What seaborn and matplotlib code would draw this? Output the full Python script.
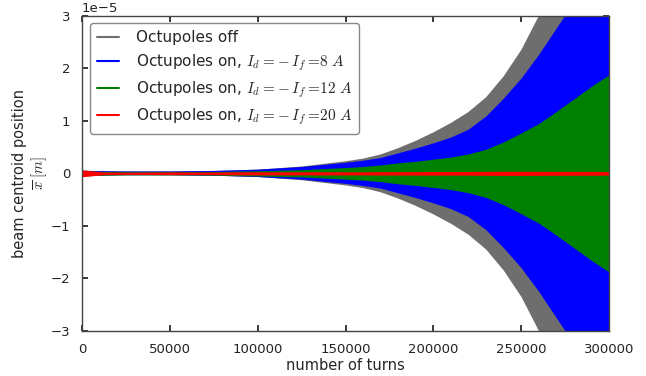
import numpy as np
import matplotlib
matplotlib.use("Agg")
import matplotlib.pyplot as plt
import seaborn as sns
from matplotlib.lines import Line2D

# envelope of the (dense) centroid oscillation, in units of 1e-5 m
turns = [0, 12500, 25000, 50000, 75000, 100000, 125000, 150000, 160000, 170000,
         180000, 190000, 200000, 210000, 220000, 230000, 240000, 250000,
         260000, 270000, 280000, 290000, 300000]
amp_off = [0.05, 0.04, 0.035, 0.035, 0.045, 0.07, 0.13, 0.23, 0.28, 0.36,
           0.48, 0.62, 0.78, 0.96, 1.17, 1.45, 1.85, 2.35,
           3.00, 3.80, 4.80, 6.00, 7.50]
amp_8A = [0.05, 0.04, 0.035, 0.035, 0.045, 0.07, 0.12, 0.20, 0.24, 0.29,
          0.38, 0.47, 0.57, 0.68, 0.83, 1.08, 1.42, 1.80,
          2.25, 2.75, 3.25, 3.90, 4.60]
amp_12A = [0.05, 0.035, 0.03, 0.03, 0.035, 0.05, 0.07, 0.11, 0.13, 0.16,
           0.20, 0.23, 0.27, 0.31, 0.37, 0.46, 0.60, 0.77,
           0.95, 1.18, 1.42, 1.66, 1.88]
amp_20A = [0.065, 0.025, 0.02, 0.025, 0.025, 0.03, 0.03, 0.03, 0.03, 0.032,
           0.032, 0.034, 0.035, 0.035, 0.035, 0.037, 0.04, 0.04,
           0.038, 0.037, 0.036, 0.036, 0.035]

labels = ["Octupoles off",
          r"Octupoles on, $I_d=\!-I_f=\!8\ A$",
          r"Octupoles on, $I_d=\!-I_f=\!12\ A$",
          r"Octupoles on, $I_d=\!-I_f=\!20\ A$"]
colors = ["#6e6e6e", "#0000ff", "#008000", "#ff0000"]

sns.set_theme(style="white", rc={
    "xtick.direction": "in", "ytick.direction": "in",
    "xtick.top": True, "ytick.right": True,
    "xtick.bottom": True, "ytick.left": True,
    "xtick.major.size": 4, "ytick.major.size": 4,
    "axes.edgecolor": "#444444", "axes.linewidth": 1.0,
    "mathtext.fontset": "cm",
})
plt.rcParams["font.family"] = ["DejaVu Sans"]

fig = plt.figure(figsize=(6.46, 3.76), dpi=100)
ax = fig.add_axes([0.127, 0.12, 0.816, 0.838])

t = np.array(turns)
for amp, c in zip([amp_off, amp_8A, amp_12A, amp_20A], colors):
    a = np.array(amp) * 1e-5
    ax.fill_between(t, -a, a, color=c, linewidth=0)

ax.set_xlim(0, 300000)
ax.set_ylim(-3e-5, 3e-5)
ax.set_xticks(np.arange(0, 300001, 50000))
ax.set_yticks(np.arange(-3, 4, 1) * 1e-5)
ax.tick_params(labelsize=9.5, pad=8.5, colors="#222222")
ax.yaxis.get_offset_text().set_fontsize(9.5)
ax.set_xlabel("number of turns", fontsize=10.5, labelpad=2)
ax.set_ylabel("beam centroid position\n" + r"$\overline{x}\ [m]$", fontsize=10.5,
              labelpad=1)

handles = [Line2D([0], [0], color=c, lw=1.5) for c in colors]
leg = ax.legend(handles, labels, loc="upper left", fontsize=11,
                frameon=True, fancybox=True, handlelength=1.5,
                handletextpad=1.1, labelspacing=0.45, borderpad=0.45,
                bbox_to_anchor=(0.0, 1.0), borderaxespad=0.5)
leg.get_frame().set_edgecolor("#888888")
leg.get_frame().set_linewidth(1.0)
leg.get_frame().set_alpha(1.0)

fig.savefig("out.png", dpi=100)
